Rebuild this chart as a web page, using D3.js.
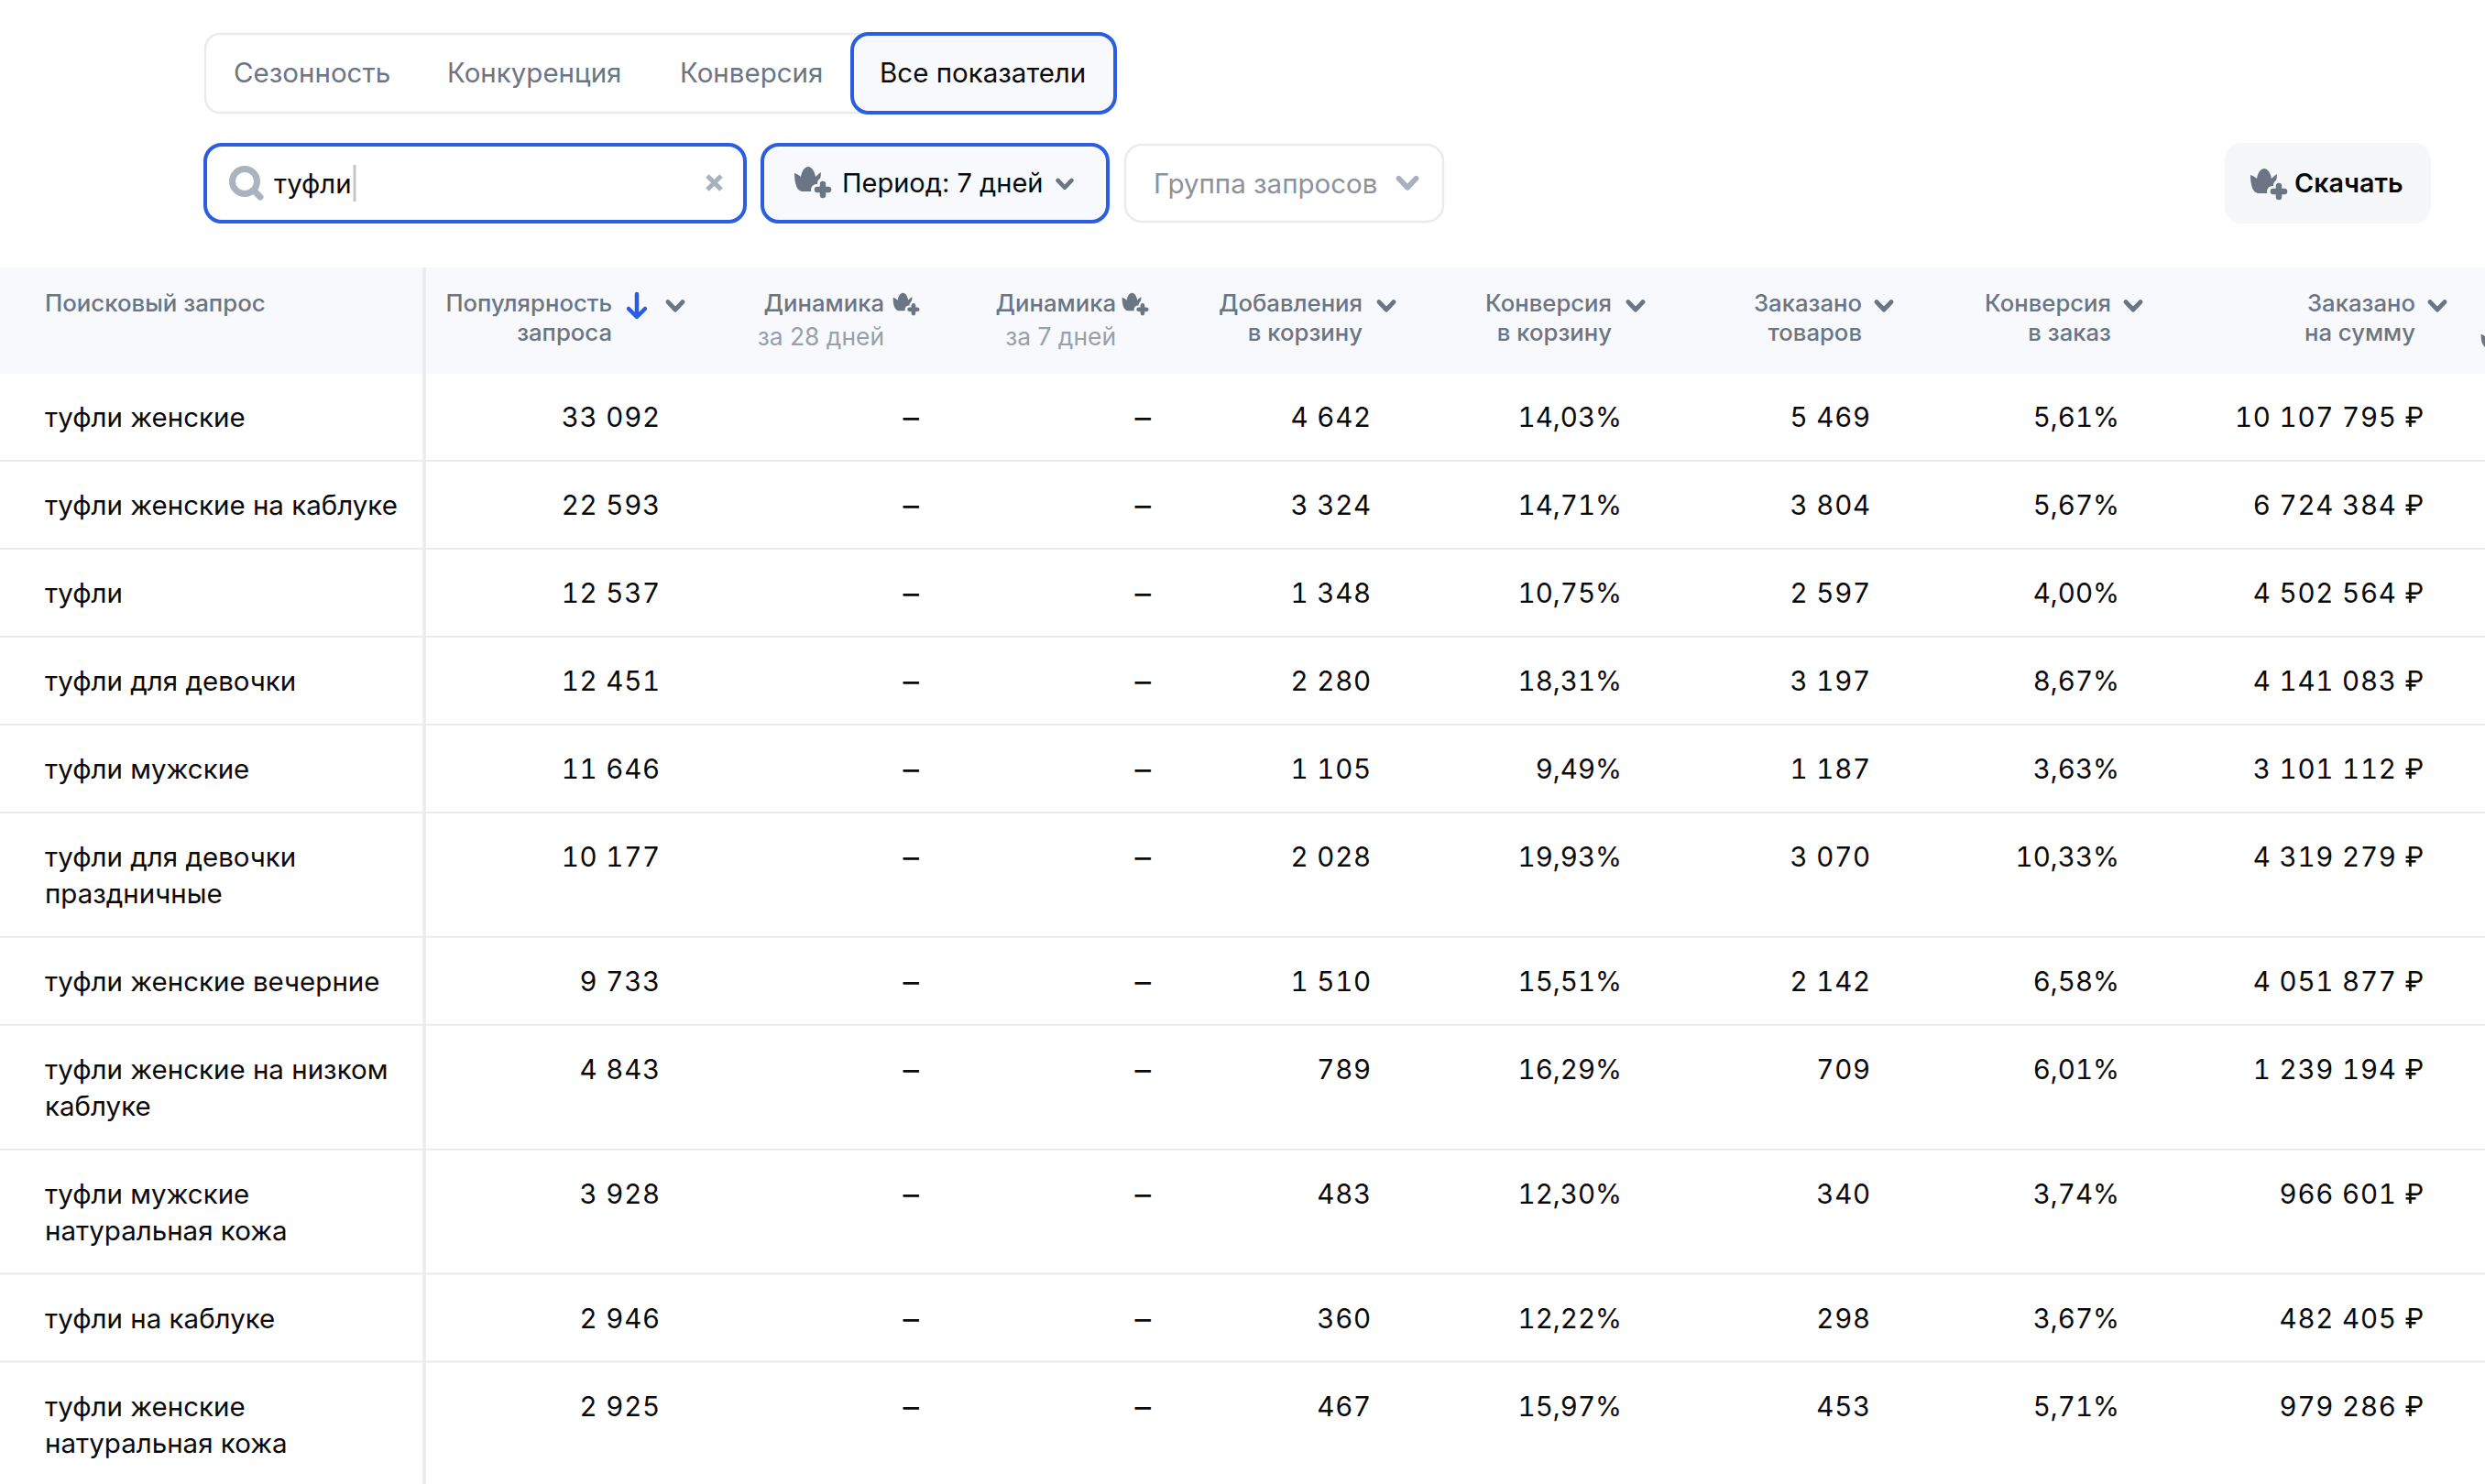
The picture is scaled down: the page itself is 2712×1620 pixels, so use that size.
<!DOCTYPE html>
<html>
<head>
<meta charset="utf-8">
<script src="https://cdn.jsdelivr.net/npm/d3@7"></script>
<style>
html, body { margin: 0; padding: 0; background: #fff; overflow: hidden; }
svg { display: block; }
text { font-family: Inter, "Noto Sans", sans-serif; }
text.val { font-variant-numeric: tabular-nums; font-feature-settings: "tnum" 1; }
</style>
</head>
<body>
<div id="chart"></div>
<script>
var queries = [
  "туфли женские",
  "туфли женские на каблуке",
  "туфли",
  "туфли для девочки",
  "туфли мужские",
  "туфли для девочки\nпраздничные",
  "туфли женские вечерние",
  "туфли женские на низком\nкаблуке",
  "туфли мужские\nнатуральная кожа",
  "туфли на каблуке",
  "туфли женские\nнатуральная кожа"
];
var popularity = [33092, 22593, 12537, 12451, 11646, 10177, 9733, 4843, 3928, 2946, 2925];
var addedToCart = [4642, 3324, 1348, 2280, 1105, 2028, 1510, 789, 483, 360, 467];
var cartConversion = [14.03, 14.71, 10.75, 18.31, 9.49, 19.93, 15.51, 16.29, 12.30, 12.22, 15.97];
var ordered = [5469, 3804, 2597, 3197, 1187, 3070, 2142, 709, 340, 298, 453];
var orderConversion = [5.61, 5.67, 4.00, 8.67, 3.63, 10.33, 6.58, 6.01, 3.74, 3.67, 5.71];
var orderedSum = [10107795, 6724384, 4502564, 4141083, 3101112, 4319279, 4051877, 1239194, 966601, 482405, 979286];

var tabs = ["Сезонность", "Конкуренция", "Конверсия", "Все показатели"];
var headers = [
  { key: "pop", l1: "Популярность", l2: "запроса" },
  { key: "d28", l1: "Динамика", sub: "за 28 дней" },
  { key: "d7", l1: "Динамика", sub: "за 7 дней" },
  { key: "add", l1: "Добавления", l2: "в корзину" },
  { key: "cc", l1: "Конверсия", l2: "в корзину" },
  { key: "ord", l1: "Заказано", l2: "товаров" },
  { key: "oc", l1: "Конверсия", l2: "в заказ" },
  { key: "sum", l1: "Заказано", l2: "на сумму" }
];
var columnKeys = headers.map(function (d) { return d.key; });

var W = 2712, H = 1620;
var grey = "#6b7584", blue = "#2a5de0", line = "#e9ebee", black = "#0a0a0a";

var fmtLocale = d3.formatLocale({ decimal: ",", thousands: "\u00a0", grouping: [3], currency: ["", " ₽"] });
var fmtInt = fmtLocale.format(",d");
var fmtPct = fmtLocale.format(".2f");

// right edges of the value columns, header text and the chevrons
var xValue = d3.scaleOrdinal().domain(columnKeys).range([721, 1003, 1256, 1497, 1770, 2042, 2313, 2646]);
var xHead = d3.scaleOrdinal().domain(columnKeys).range([668, 965, 1218, 1487, 1759, 2032, 2304, 2636]);
var xChev = d3.scaleOrdinal().domain(columnKeys).range([737, 1003, 1253, 1513, 1785, 2056, 2328, 2660]);

// one row is 1 unit, each extra line of query adds 0.415
var unit = d3.scaleLinear().domain([0, 1]).range([407, 503]);
var rowTop = [];
var acc = 0;
queries.forEach(function (q) {
  rowTop.push(acc);
  acc += 1 + (q.split("\n").length - 1) * 0.415;
});
rowTop.push(acc);

var svg = d3.select("#chart").append("svg").attr("width", W).attr("height", H);

function rrect(g, x, y, w, h, r, fill, stroke, sw) {
  return g.append("rect").attr("x", x).attr("y", y).attr("width", w).attr("height", h).attr("rx", r)
    .attr("fill", fill).attr("stroke", stroke).attr("stroke-width", sw);
}
function label(g, x, y, s, size, color, weight, anchor, ls) {
  return g.append("text").attr("x", x).attr("y", y).attr("dy", "0.36em")
    .attr("font-size", size).attr("fill", color).attr("font-weight", weight || 400)
    .attr("text-anchor", anchor || "start").attr("letter-spacing", ls || 0).text(s);
}
function chevron(g, x, y, s, color) {
  g.append("path").attr("d", "M" + (x - s) + "," + (y - s * 0.55) + "L" + x + "," + (y + s * 0.5) + "L" + (x + s) + "," + (y - s * 0.55))
    .attr("fill", "none").attr("stroke", color).attr("stroke-width", s * 0.62)
    .attr("stroke-linecap", "round").attr("stroke-linejoin", "round");
}
// lotus with a plus, cx/cy is the middle of the whole sign
function lotus(g, cx, cy, k, bg) {
  var i = g.append("g").attr("transform", "translate(" + cx + "," + cy + ") scale(" + k + ")");
  i.append("path").attr("fill", grey)
    .attr("d", "M-20,-10 C-17,-9 -15,-8 -13,-6 C-12,-12 -9,-17 -5,-17 C-1,-17 2,-12 3,-6 C5,-8 7,-10 9,-11 C9,-6 8,-2 5,3 C3,8 0,10 -4,10 L-12,10 C-17,9 -20,2 -20,-10 Z");
  i.append("path").attr("fill", "none").attr("stroke", bg).attr("stroke-width", 12).attr("stroke-linecap", "round")
    .attr("d", "M11,1 L11,15 M4,8 L18,8");
  i.append("path").attr("fill", "none").attr("stroke", grey).attr("stroke-width", 6.5).attr("stroke-linecap", "round")
    .attr("d", "M11,2 L11,14 M5,8 L17,8");
}

// tabs
var controls = svg.append("g");
rrect(controls, 224, 37, 740, 86, 16, "#fff", line, 2.5);
rrect(controls, 930, 37, 287, 86, 18, "#f7f9fc", blue, 4);
var tabX = [255, 488, 742, 960];
tabs.forEach(function (t, i) {
  label(controls, tabX[i], 79.5, t, 29.5, i === 3 ? black : grey, 400);
});

// search and filters
rrect(controls, 224, 158, 589, 84, 18, "#fff", blue, 4);
controls.append("circle").attr("cx", 267).attr("cy", 198).attr("r", 13.5).attr("fill", "none").attr("stroke", "#aab4c0").attr("stroke-width", 7);
controls.append("path").attr("d", "M277,208L284,215").attr("stroke", "#aab4c0").attr("stroke-width", 7).attr("stroke-linecap", "round");
label(controls, 299, 200, "туфли", 29.4, black, 400);
controls.append("path").attr("d", "M387,180V220").attr("stroke", "#c4c7ca").attr("stroke-width", 3);
controls.append("path").attr("d", "M772,192L787,207M787,192L772,207").attr("stroke", "#a8b1bc").attr("stroke-width", 5).attr("fill", "none");

rrect(controls, 832, 158, 377, 84, 18, "#f7f9fc", blue, 4);
lotus(controls, 887, 199, 1, "#f7f9fc");
label(controls, 919, 200, "Период: 7 дней", 29, black, 400);
chevron(controls, 1162, 201, 7.5, grey);

rrect(controls, 1228, 158, 347, 84, 18, "#fff", line, 2.5);
label(controls, 1259, 200, "Группа запросов", 29.5, "#8a929d", 400);
chevron(controls, 1536, 200, 9.5, "#a8b1bc");

rrect(controls, 2428, 156, 225, 88, 18, "#f5f7f9", "none", 0);
lotus(controls, 2476, 201, 1, "#f5f7f9");
label(controls, 2504, 200, "Скачать", 28.7, black, 600);

// table header
var head = svg.append("g");
head.append("rect").attr("x", 0).attr("y", 292).attr("width", W).attr("height", 116).attr("fill", "#f7f9fc");
label(head, 49, 331, "Поисковый запрос", 25.8, grey, 500);

var hcols = head.selectAll("g.hcol").data(headers).enter().append("g").attr("class", "hcol");
hcols.each(function (d) {
  var g = d3.select(this), x = xHead(d.key);
  label(g, x, 331, d.l1, 25.7, grey, 500, "end");
  if (d.l2) label(g, x, 363, d.l2, 25.7, grey, 500, "end");
  if (d.sub) label(g, x, 367, d.sub, 26.4, "#98a0ab", 400, "end");
  if (d.sub) lotus(g, xChev(d.key) - 14, 332, 0.72, "#f7f9fc");
  else chevron(g, xChev(d.key), 334, 8, grey);
});
// sort arrow on the first column
head.append("path").attr("d", "M695,321V345M686,337L695,346L704,337").attr("fill", "none")
  .attr("stroke", blue).attr("stroke-width", 4.5).attr("stroke-linecap", "round").attr("stroke-linejoin", "round");
// next column, cut by the page edge
lotus(head, 2722, 372, 0.72, "#f7f9fc");

// rows
var rows = svg.append("g").selectAll("g.row").data(queries).enter().append("g").attr("class", "row");

rows.append("line")
  .attr("x1", 0).attr("x2", W)
  .attr("y1", function (d, i) { return unit(rowTop[i + 1]); })
  .attr("y2", function (d, i) { return unit(rowTop[i + 1]); })
  .attr("stroke", line).attr("stroke-width", 2)
  .attr("display", function (d, i) { return i === queries.length - 1 ? "none" : null; });

rows.each(function (q, i) {
  var g = d3.select(this), y = unit(rowTop[i]) + 48.5;
  q.split("\n").forEach(function (s, j) {
    label(g, 49, y + j * 40, s, 29.5, black, 400);
  });
  var cells = [
    ["pop", fmtInt(popularity[i]), 0.8],
    ["d28", "–", 0],
    ["d7", "–", 0],
    ["add", fmtInt(addedToCart[i]), 0.8],
    ["cc", fmtPct(cartConversion[i]) + "%", 0],
    ["ord", fmtInt(ordered[i]), 0.8],
    ["oc", fmtPct(orderConversion[i]) + "%", 0],
    ["sum", fmtInt(orderedSum[i]) + " ₽", 0.8]
  ];
  g.selectAll("text.val").data(cells).enter().append("text").attr("class", "val")
    .attr("x", function (c) { return xValue(c[0]); })
    .attr("y", y).attr("dy", "0.36em")
    .attr("text-anchor", "end").attr("fill", black)
    .attr("font-size", function (c) { return c[1] === "–" ? 35 : 29.5; })
    .attr("letter-spacing", function (c) { return c[2]; })
    .text(function (c) { return c[1]; });
});

svg.append("line").attr("x1", 463).attr("x2", 463).attr("y1", 292).attr("y2", H)
  .attr("stroke", "#e9ebee").attr("stroke-width", 3.5);
</script>
</body>
</html>
